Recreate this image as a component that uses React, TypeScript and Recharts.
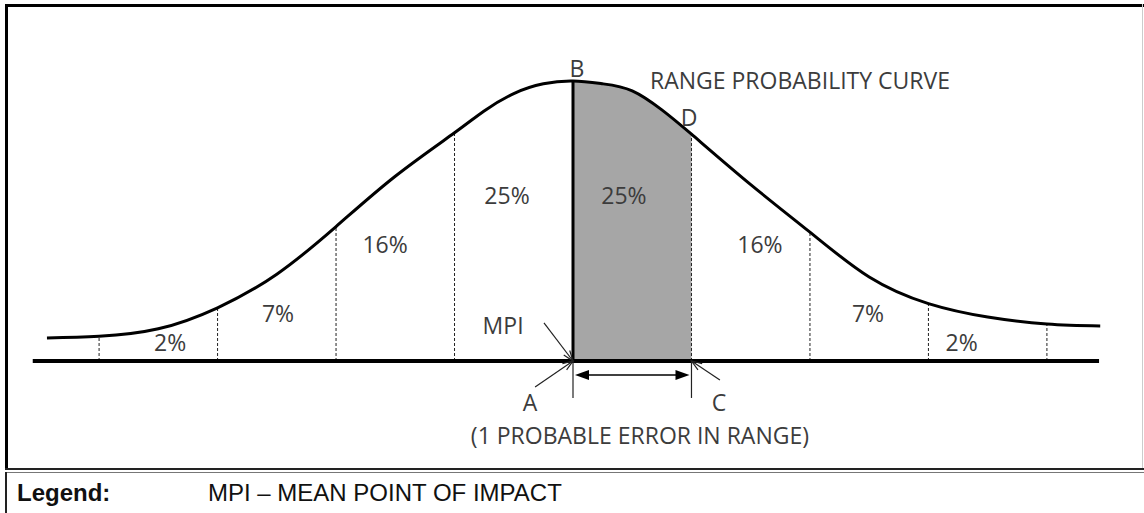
import React from "react"
import {
  ComposedChart,
  Line,
  Area,
  XAxis,
  YAxis,
  ReferenceLine,
  ReferenceDot,
} from "recharts"

// x in units of one probable error, y relative to the peak height
const positions = [
  -4.44, -4, -3.5, -3, -2.5, -2, -1.5, -1, -0.75, -0.5, -0.25, 0, 0.25, 0.5,
  0.75, 1, 1.5, 2, 2.5, 3, 3.5, 4, 4.45,
]
const heights = [
  0.082, 0.088, 0.115, 0.19, 0.31, 0.48, 0.66, 0.815, 0.893, 0.955, 0.99, 1,
  0.99, 0.965, 0.897, 0.81, 0.63, 0.46, 0.3, 0.205, 0.157, 0.132, 0.125,
]
const dividers = [-4, -3, -2, -1, 1, 2, 3, 4]
const shadeFrom = 0
const shadeTo = 1

const percentLabels = ["2%", "7%", "16%", "25%", "25%", "16%", "7%", "2%"]
const percentX = [-3.4, -2.49, -1.586, -0.557, 0.43, 1.578, 2.49, 3.28]
const percentY = [0.068, 0.171, 0.418, 0.593, 0.593, 0.418, 0.171, 0.068]

const letterLabels = ["B", "D", "MPI", "A", "C"]
const letterX = [0.034, 0.979, -0.59, -0.363, 1.232]
const letterY = [1.046, 0.871, 0.129, -0.146, -0.146]

const data = positions.map((x, i) => ({
  x,
  curve: heights[i],
  shade: x >= shadeFrom && x <= shadeTo ? heights[i] : null,
}))

const heightAt = (x: number) => heights[positions.indexOf(x)]

const textColor = "#3c3c3c"
const chartFont = "'Open Sans', sans-serif"

const TextMark = (value: string, anchor = "middle", size = 23) => (p: any) => (
  <text
    x={p.cx}
    y={p.cy}
    textAnchor={anchor}
    dominantBaseline="central"
    fontFamily={chartFont}
    fontSize={size}
    fill={textColor}
  >
    {value}
  </text>
)

const PointerArrow = (p: any) => {
  const { x1, y1, x2, y2 } = p
  const a = Math.atan2(y2 - y1, x2 - x1)
  const len = 11
  const spread = 0.35
  const h1x = x2 - len * Math.cos(a - spread)
  const h1y = y2 - len * Math.sin(a - spread)
  const h2x = x2 - len * Math.cos(a + spread)
  const h2y = y2 - len * Math.sin(a + spread)
  return (
    <g stroke="#222" strokeWidth={1.2} fill="none">
      <line x1={x1} y1={y1} x2={x2} y2={y2} />
      <polyline points={`${h1x},${h1y} ${x2},${y2} ${h2x},${h2y}`} />
    </g>
  )
}

const DoubleArrow = (p: any) => {
  const { x1, y1, x2, y2 } = p
  const len = 14
  const half = 5
  return (
    <g>
      <line x1={x1 + len} y1={y1} x2={x2 - len} y2={y2} stroke="#000" strokeWidth={1.6} />
      <polygon
        points={`${x1 + 2},${y1} ${x1 + 2 + len},${y1 - half} ${x1 + 2 + len},${y1 + half}`}
        fill="#000"
      />
      <polygon
        points={`${x2 - 2},${y2} ${x2 - 2 - len},${y2 - half} ${x2 - 2 - len},${y2 + half}`}
        fill="#000"
      />
    </g>
  )
}

const RangeCurve = () => {
  return (
    <ComposedChart
      width={1144}
      height={513}
      data={data}
      margin={{ top: 39, right: 26, left: 28, bottom: 12 }}
      style={{ position: "absolute", left: 0, top: 0 }}
    >
      <XAxis
        dataKey="x"
        type="number"
        domain={[-4.6, 4.6]}
        allowDataOverflow
        hide
      />
      <YAxis type="number" domain={[-0.5, 1.15]} allowDataOverflow hide />
      <Area
        dataKey="shade"
        type="natural"
        stroke="none"
        fill="#a6a6a6"
        fillOpacity={1}
        baseValue={0}
        isAnimationActive={false}
      />
      {dividers.map((d) => (
        <ReferenceLine
          key={d}
          segment={[
            { x: d, y: 0 },
            { x: d, y: heightAt(d) },
          ]}
          stroke="#222"
          strokeWidth={1}
          strokeDasharray="3 2"
          ifOverflow="visible"
        />
      ))}
      <ReferenceLine
        segment={[
          { x: 0, y: 0 },
          { x: 0, y: heightAt(0) },
        ]}
        stroke="#000"
        strokeWidth={3}
        ifOverflow="visible"
      />
      <ReferenceLine
        segment={[
          { x: -4.56, y: 0 },
          { x: 4.44, y: 0 },
        ]}
        stroke="#000"
        strokeWidth={4}
        ifOverflow="visible"
      />
      <Line
        dataKey="curve"
        type="natural"
        stroke="#000"
        strokeWidth={3}
        dot={false}
        isAnimationActive={false}
      />
      {[shadeFrom, shadeTo].map((d) => (
        <ReferenceLine
          key={`tick${d}`}
          segment={[
            { x: d, y: 0 },
            { x: d, y: -0.132 },
          ]}
          stroke="#222"
          strokeWidth={1.2}
          ifOverflow="visible"
        />
      ))}
      <ReferenceLine
        segment={[
          { x: shadeFrom, y: -0.05 },
          { x: shadeTo, y: -0.05 },
        ]}
        shape={DoubleArrow}
        ifOverflow="visible"
      />
      <ReferenceLine
        segment={[
          { x: -0.245, y: 0.136 },
          { x: 0, y: 0 },
        ]}
        shape={PointerArrow}
        ifOverflow="visible"
      />
      <ReferenceLine
        segment={[
          { x: -0.32, y: -0.093 },
          { x: 0, y: 0 },
        ]}
        shape={PointerArrow}
        ifOverflow="visible"
      />
      <ReferenceLine
        segment={[
          { x: 1.24, y: -0.068 },
          { x: 1, y: 0 },
        ]}
        shape={PointerArrow}
        ifOverflow="visible"
      />
      {percentLabels.map((t, i) => (
        <ReferenceDot
          key={`p${i}`}
          x={percentX[i]}
          y={percentY[i]}
          ifOverflow="visible"
          shape={TextMark(t)}
        />
      ))}
      {letterLabels.map((t, i) => (
        <ReferenceDot
          key={`l${i}`}
          x={letterX[i]}
          y={letterY[i]}
          ifOverflow="visible"
          shape={TextMark(t)}
        />
      ))}
      <ReferenceDot
        x={0.65}
        y={1.004}
        ifOverflow="visible"
        shape={TextMark("RANGE PROBABILITY CURVE", "start")}
      />
      <ReferenceDot
        x={0.565}
        y={-0.264}
        ifOverflow="visible"
        shape={TextMark("(1 PROBABLE ERROR IN RANGE)")}
      />
    </ComposedChart>
  )
}

const App = () => {
  return (
    <div
      style={{
        position: "absolute",
        left: 0,
        top: 0,
        width: 1144,
        height: 513,
        background: "#fff",
        overflow: "hidden",
      }}
    >
      {/* frame */}
      <div style={{ position: "absolute", left: 5, top: 4, width: 1139, height: 3, background: "#000" }} />
      <div style={{ position: "absolute", left: 5, top: 4, width: 3, height: 464, background: "#000" }} />
      <div style={{ position: "absolute", left: 1142, top: 4, width: 1, height: 464, background: "#ccc" }} />
      <div style={{ position: "absolute", left: 5, top: 468, width: 1139, height: 2, background: "#222" }} />
      <div style={{ position: "absolute", left: 5, top: 472, width: 1139, height: 1, background: "#777" }} />
      <div style={{ position: "absolute", left: 5, top: 472, width: 2, height: 41, background: "#222" }} />
      <RangeCurve />
      <div
        style={{
          position: "absolute",
          left: 17,
          top: 477,
          fontFamily: "'Liberation Sans', Arial, sans-serif",
          fontSize: 24,
          fontWeight: "bold",
          color: "#111",
          lineHeight: "32px",
        }}
      >
        Legend:
      </div>
      <div
        style={{
          position: "absolute",
          left: 208,
          top: 477,
          fontFamily: "'Liberation Sans', Arial, sans-serif",
          fontSize: 24,
          color: "#111",
          lineHeight: "32px",
        }}
      >
        MPI – MEAN POINT OF IMPACT
      </div>
    </div>
  )
}

export default App
